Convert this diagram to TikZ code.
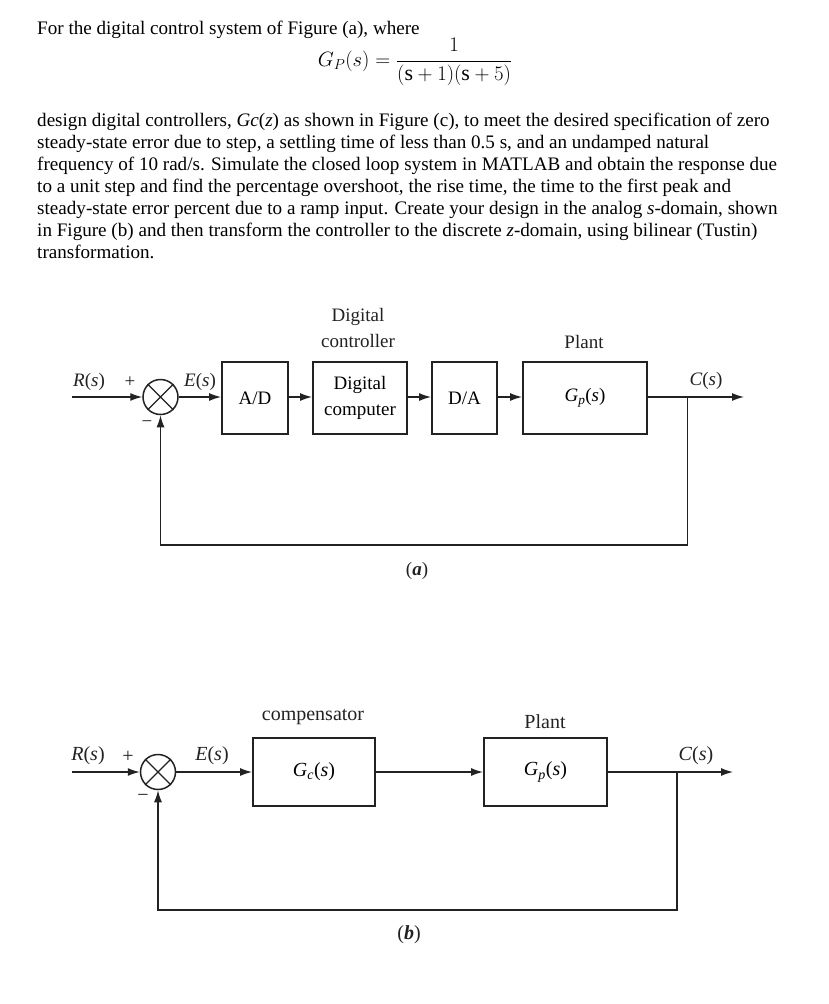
\documentclass[tikz,border=0pt]{standalone}
\usepackage{fontspec}
\setmainfont{Liberation Serif}
\usetikzlibrary{arrows.meta}
\definecolor{ink}{HTML}{222222}
\begin{document}
\begin{tikzpicture}[x=1pt,y=-1pt,
  txt/.style={anchor=base west, inner sep=0pt, font=\fontsize{19.1}{22}\selectfont, text=black},
  blk/.style={draw=ink, line width=1.9pt, inner sep=0pt, minimum height=72pt, align=center, font=\fontsize{19}{26}\selectfont},
  blkb/.style={draw=ink, line width=1.9pt, inner sep=0pt, minimum height=68pt, align=center, font=\fontsize{20}{26}\selectfont},
  sumj/.style={draw=ink, line width=1.5pt, circle, minimum size=35pt, inner sep=0pt},
  sig/.style={draw=ink, line width=1.3pt, -{Latex[length=12pt,width=8pt]}},
  wire/.style={draw=ink, line width=1.3pt},
  lab/.style={inner sep=0pt, text=ink, font=\fontsize{19}{26}\selectfont, align=center},
  labb/.style={inner sep=0pt, text=ink, font=\fontsize{20}{26}\selectfont, align=center}]
\useasboundingbox (0,0) rectangle (828,1004);
\fill[white] (0,0) rectangle (828,1004);

% ---------- text ----------
\node[txt] (t0) at (37,34) {For the digital control system of Figure (a), where};
\node[inner sep=0pt, font=\fontsize{22}{26}\selectfont] (eq) at (415,62) {$\displaystyle G_P(s) = \frac{1}{(\mathrm{s}+1)(\mathrm{s}+5)}$};
\node[txt] (t1) at (37,126) {design digital controllers, \textit{Gc}(\textit{z}) as shown in Figure (c), to meet the desired specification of zero};
\node[txt] (t2) at (37,148) {steady-state error due to step, a settling time of less than 0.5 s, and an undamped natural};
\node[txt] (t3) at (37,170) {frequency of 10 rad/s. Simulate the closed loop system in MATLAB and obtain the response due};
\node[txt] (t4) at (37,192) {to a unit step and find the percentage overshoot, the rise time, the time to the first peak and};
\node[txt] (t5) at (37,214) {steady-state error percent due to a ramp input. Create your design in the analog \textit{s}-domain, shown};
\node[txt] (t6) at (37,236) {in Figure (b) and then transform the controller to the discrete \textit{z}-domain, using bilinear (Tustin)};
\node[txt] (t7) at (37,258) {transformation.};

% ---------- diagram (a) ----------
\coordinate (ina) at (72,397);
\node[sumj] (sa) at (160.5,397) {};
\draw[wire] (sa.north west) -- (sa.south east) (sa.north east) -- (sa.south west);
\node[blk, minimum width=66pt] (ad) at (255,398) {A/D};
\node[blk, minimum width=94pt] (dc) at (360,398) {Digital\\computer};
\node[blk, minimum width=65pt] (da) at (464.5,398) {D/A};
\node[blk, minimum width=124pt] (gp) at (585,398) {\textit{G}\textsubscript{\textit{p}}(\textit{s})};
\coordinate (outa) at (744,397);
\coordinate (bra) at (687.5,397);
\coordinate (bra2) at (687.5,545);
\coordinate (bla) at (160.5,545);

\draw[sig] (ina) -- (sa.west);
\draw[sig] (sa.east) -- (ad.west |- sa.east);
\draw[sig] (ad.east |- sa.east) -- (dc.west |- sa.east);
\draw[sig] (dc.east |- sa.east) -- (da.west |- sa.east);
\draw[sig] (da.east |- sa.east) -- (gp.west |- sa.east);
\draw[sig] (gp.east |- sa.east) -- (outa);
\draw[sig] (bra) -- (bra2) -- (bla) -- (sa.south);

\node[lab] (la1) at (89,382) {\textit{R}(\textit{s})};
\node[lab] (la2) at (130,382) {+};
\node[lab] (la3) at (147,424) {\textminus};
\node[lab] (la4) at (200,382) {\textit{E}(\textit{s})};
\node[lab] (la5) at (358,328) {Digital\\controller};
\node[lab] (la6) at (584,342) {Plant};
\node[lab] (la7) at (706,381) {\textit{C}(\textit{s})};
\node[lab] (la8) at (417,571) {(\textbf{\textit{a}})};

% ---------- diagram (b) ----------
\coordinate (inb) at (72,772);
\node[sumj] (sb) at (158,772) {};
\draw[wire] (sb.north west) -- (sb.south east) (sb.north east) -- (sb.south west);
\node[blkb, minimum width=122pt] (gc) at (314,772) {\textit{G}\textsubscript{\textit{c}}(\textit{s})};
\node[blkb, minimum width=123pt] (gpb) at (545.5,772) {\textit{G}\textsubscript{\textit{p}}(\textit{s})};
\coordinate (outb) at (733,772);
\coordinate (brb) at (677,772);
\coordinate (brb2) at (677,910);
\coordinate (blb) at (158,910);

\draw[sig] (inb) -- (sb.west);
\draw[sig] (sb.east) -- (gc.west);
\draw[sig] (gc.east) -- (gpb.west);
\draw[sig] (gpb.east) -- (outb);
\draw[sig] (brb) -- (brb2) -- (blb) -- (sb.south);

\node[labb] (lb1) at (88,756) {\textit{R}(\textit{s})};
\node[labb] (lb2) at (128,757) {+};
\node[labb] (lb3) at (143,798) {\textminus};
\node[labb] (lb4) at (212,756) {\textit{E}(\textit{s})};
\node[labb] (lb5) at (313,717) {compensator};
\node[labb] (lb6) at (545,722) {Plant};
\node[labb] (lb7) at (696,756) {\textit{C}(\textit{s})};
\node[labb] (lb8) at (409,935) {(\textbf{\textit{b}})};
\end{tikzpicture}
\end{document}
